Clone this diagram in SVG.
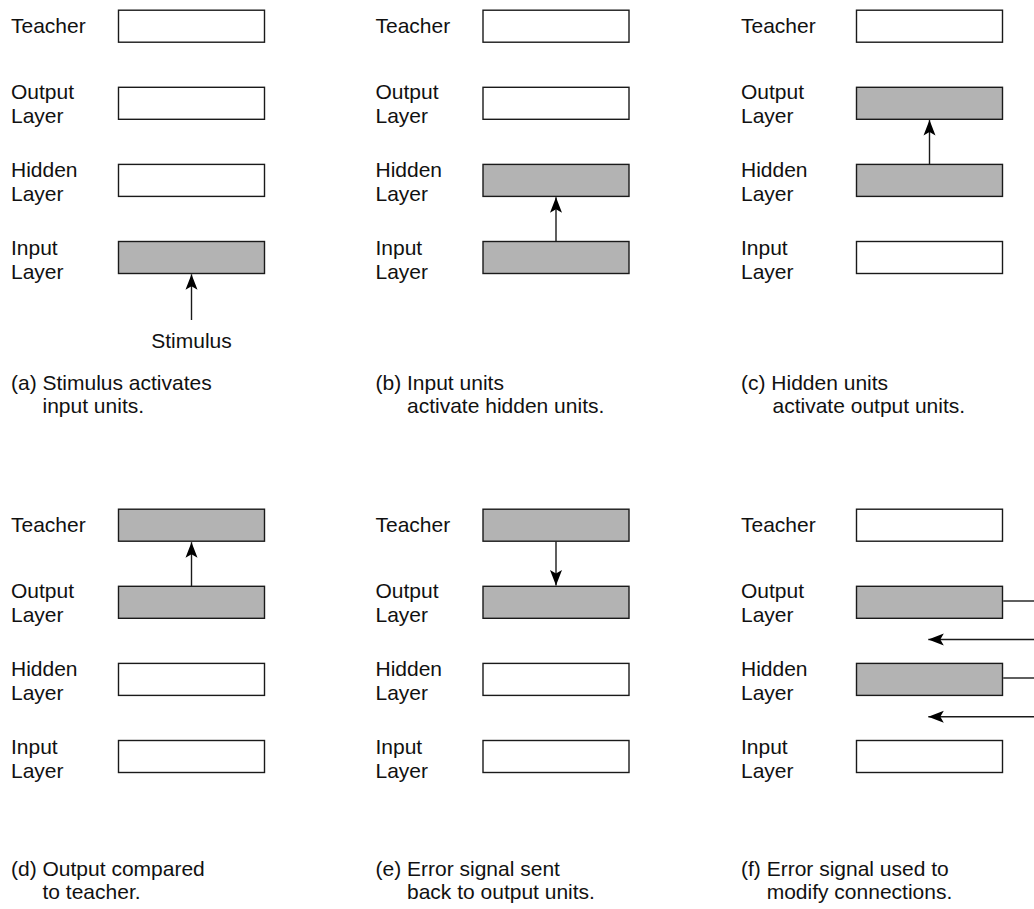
<svg xmlns="http://www.w3.org/2000/svg" width="1034" height="909" viewBox="0 0 1034 909">
<style>
text{font-family:"Liberation Sans",Arial,sans-serif;font-size:21px;fill:#111}
.b{fill:#fff;stroke:#1a1a1a;stroke-width:1.4}
.g{fill:#b3b3b3;stroke:#1a1a1a;stroke-width:1.4}
.c line{stroke:#1a1a1a;stroke-width:1.4}
.m line{marker-end:url(#ah)}
</style>
<defs>
<marker id="ah" markerUnits="userSpaceOnUse" viewBox="-16 -7 17 14" refX="0" refY="0" markerWidth="17" markerHeight="14" orient="auto">
<path d="M0,0 L-15.5,-6 L-12,0 L-15.5,6 Z" fill="#000"/>
</marker>
</defs>

<g id="panel-a">
<text x="11" y="33">Teacher</text>
<text x="11" y="99">Output</text><text x="11" y="123">Layer</text>
<text x="11" y="177">Hidden</text><text x="11" y="201">Layer</text>
<text x="11" y="255">Input</text><text x="11" y="279">Layer</text>
<rect id="a-teacher" class="b" x="118.5" y="10.2" width="146" height="32"/>
<rect id="a-output" class="b" x="118.5" y="87.3" width="146" height="32"/>
<rect id="a-hidden" class="b" x="118.5" y="164.4" width="146" height="32"/>
<rect id="a-input" class="g" x="118.5" y="241.5" width="146" height="32"/>
<text x="191.5" y="348" text-anchor="middle">Stimulus</text>
<text x="11" y="390">(a) Stimulus activates</text>
<text x="42.5" y="412.5">input units.</text>
</g>

<g id="panel-b">
<text x="375.5" y="33">Teacher</text>
<text x="375.5" y="99">Output</text><text x="375.5" y="123">Layer</text>
<text x="375.5" y="177">Hidden</text><text x="375.5" y="201">Layer</text>
<text x="375.5" y="255">Input</text><text x="375.5" y="279">Layer</text>
<rect id="b-teacher" class="b" x="483" y="10.2" width="146" height="32"/>
<rect id="b-output" class="b" x="483" y="87.3" width="146" height="32"/>
<rect id="b-hidden" class="g" x="483" y="164.4" width="146" height="32"/>
<rect id="b-input" class="g" x="483" y="241.5" width="146" height="32"/>
<text x="375.5" y="390">(b) Input units</text>
<text x="407" y="412.5">activate hidden units.</text>
</g>

<g id="panel-c">
<text x="741" y="33">Teacher</text>
<text x="741" y="99">Output</text><text x="741" y="123">Layer</text>
<text x="741" y="177">Hidden</text><text x="741" y="201">Layer</text>
<text x="741" y="255">Input</text><text x="741" y="279">Layer</text>
<rect id="c-teacher" class="b" x="856.5" y="10.2" width="146" height="32"/>
<rect id="c-output" class="g" x="856.5" y="87.3" width="146" height="32"/>
<rect id="c-hidden" class="g" x="856.5" y="164.4" width="146" height="32"/>
<rect id="c-input" class="b" x="856.5" y="241.5" width="146" height="32"/>
<text x="741" y="390">(c) Hidden units</text>
<text x="772.5" y="412.5">activate output units.</text>
</g>

<g id="panel-d">
<text x="11" y="532">Teacher</text>
<text x="11" y="598">Output</text><text x="11" y="622">Layer</text>
<text x="11" y="676">Hidden</text><text x="11" y="700">Layer</text>
<text x="11" y="754">Input</text><text x="11" y="778">Layer</text>
<rect id="d-teacher" class="g" x="118.5" y="509.2" width="146" height="32"/>
<rect id="d-output" class="g" x="118.5" y="586.3" width="146" height="32"/>
<rect id="d-hidden" class="b" x="118.5" y="663.4" width="146" height="32"/>
<rect id="d-input" class="b" x="118.5" y="740.5" width="146" height="32"/>
<text x="11" y="876">(d) Output compared</text>
<text x="42.5" y="899">to teacher.</text>
</g>

<g id="panel-e">
<text x="375.5" y="532">Teacher</text>
<text x="375.5" y="598">Output</text><text x="375.5" y="622">Layer</text>
<text x="375.5" y="676">Hidden</text><text x="375.5" y="700">Layer</text>
<text x="375.5" y="754">Input</text><text x="375.5" y="778">Layer</text>
<rect id="e-teacher" class="g" x="483" y="509.2" width="146" height="32"/>
<rect id="e-output" class="g" x="483" y="586.3" width="146" height="32"/>
<rect id="e-hidden" class="b" x="483" y="663.4" width="146" height="32"/>
<rect id="e-input" class="b" x="483" y="740.5" width="146" height="32"/>
<text x="375.5" y="876">(e) Error signal sent</text>
<text x="407" y="899">back to output units.</text>
</g>

<g id="panel-f">
<text x="741" y="532">Teacher</text>
<text x="741" y="598">Output</text><text x="741" y="622">Layer</text>
<text x="741" y="676">Hidden</text><text x="741" y="700">Layer</text>
<text x="741" y="754">Input</text><text x="741" y="778">Layer</text>
<rect id="f-teacher" class="b" x="856.5" y="509.2" width="146" height="32"/>
<rect id="f-output" class="g" x="856.5" y="586.3" width="146" height="32"/>
<rect id="f-hidden" class="g" x="856.5" y="663.4" width="146" height="32"/>
<rect id="f-input" class="b" x="856.5" y="740.5" width="146" height="32"/>
<text x="741" y="876">(f) Error signal used to</text>
<text x="766.7" y="899">modify connections.</text>
</g>

<g id="connectors" class="c">
<g class="m">
<line x1="191.5" y1="320" x2="191.5" y2="274.3"/>
<line x1="556" y1="241" x2="556" y2="197.2"/>
<line x1="929.5" y1="164" x2="929.5" y2="120.1"/>
<line x1="191.5" y1="586" x2="191.5" y2="542.2"/>
<line x1="556" y1="541.6" x2="556" y2="585.6"/>
<line x1="1034" y1="639.5" x2="928.3" y2="639.5"/>
<line x1="1034" y1="716.7" x2="928.3" y2="716.7"/>
</g>
<line x1="1003.2" y1="601" x2="1034" y2="601"/>
<line x1="1003.2" y1="678" x2="1034" y2="678"/>
</g>
</svg>
